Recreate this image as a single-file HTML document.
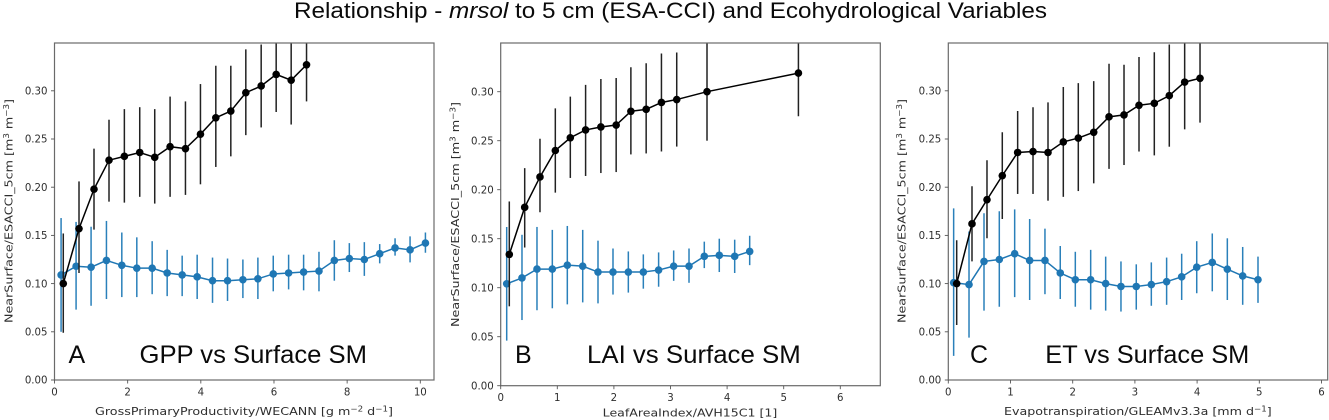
<!DOCTYPE html>
<html lang="en">
<head>
<meta charset="utf-8">
<title>Relationship - mrsol to 5 cm (ESA-CCI) and Ecohydrological Variables</title>
<style>
html,body{margin:0;padding:0;background:#fff;width:1329px;height:420px;overflow:hidden}
svg{display:block}
text{font-family:"DejaVu Sans","Liberation Sans",sans-serif;fill:#2e2e2e}
.big{font-family:"Liberation Sans",sans-serif;fill:#0a0a0a}
</style>
</head>
<body>
<svg id="figure" xmlns="http://www.w3.org/2000/svg" width="1329" height="420" viewBox="0 0 1329 420">
  <text class="big" x="294" y="18" font-size="22" textLength="753" lengthAdjust="spacingAndGlyphs">Relationship - <tspan font-style="italic">mrsol</tspan> to 5 cm (ESA-CCI) and Ecohydrological Variables</text>
  <g id="panels"></g>
</svg>
<script>
// Shared tick values
const yTickValues = [0, 0.05, 0.10, 0.15, 0.20, 0.25, 0.30];
const yTickLabels = ['0.00', '0.05', '0.10', '0.15', '0.20', '0.25', '0.30'];

// Panel A: GPP
const gppXTicks = [0, 2, 4, 6, 8, 10];
const gppBlackX = [0.24,0.67,1.08,1.49,1.91,2.33,2.74,3.16,3.58,3.99,4.41,4.82,5.23,5.65,6.06,6.47,6.89];
const gppBlackY = [0.100,0.157,0.198,0.228,0.232,0.236,0.231,0.242,0.240,0.255,0.272,0.279,0.298,0.305,0.317,0.311,0.327];
const gppBlackLow = [0.049,0.111,0.156,0.185,0.184,0.190,0.183,0.190,0.192,0.203,0.221,0.232,0.254,0.262,0.278,0.265,0.289];
const gppBlackHigh = [0.152,0.206,0.240,0.270,0.281,0.283,0.281,0.294,0.289,0.307,0.326,0.326,0.343,0.348,0.357,0.357,0.367];
const gppBlueX = [0.18,0.59,1.00,1.42,1.84,2.25,2.67,3.08,3.49,3.90,4.32,4.73,5.15,5.56,5.98,6.40,6.81,7.23,7.65,8.06,8.47,8.89,9.31,9.72,10.14];
const gppBlueY = [0.109,0.118,0.117,0.124,0.119,0.116,0.116,0.111,0.109,0.107,0.103,0.103,0.104,0.105,0.110,0.111,0.112,0.113,0.124,0.126,0.125,0.131,0.137,0.135,0.142];
const gppBlueLow = [0.050,0.073,0.077,0.084,0.086,0.086,0.089,0.087,0.087,0.084,0.080,0.082,0.085,0.084,0.092,0.094,0.093,0.092,0.103,0.112,0.108,0.121,0.129,0.122,0.132];
const gppBlueHigh = [0.168,0.164,0.159,0.165,0.153,0.148,0.144,0.135,0.129,0.130,0.127,0.126,0.125,0.127,0.129,0.130,0.130,0.133,0.145,0.142,0.143,0.141,0.147,0.149,0.153];

// Panel B: LAI
const laiXTicks = [0, 1, 2, 3, 4, 5, 6];
const laiBlackX = [0.152,0.424,0.694,0.965,1.23,1.50,1.77,2.04,2.30,2.57,2.84,3.11,3.645,5.26];
const laiBlackY = [0.134,0.182,0.213,0.240,0.253,0.261,0.264,0.266,0.280,0.282,0.289,0.292,0.300,0.319];
const laiBlackLow = [0.081,0.141,0.177,0.197,0.212,0.214,0.217,0.218,0.236,0.237,0.239,0.244,0.250,0.275];
const laiBlackHigh = [0.188,0.222,0.252,0.283,0.295,0.307,0.313,0.314,0.325,0.329,0.339,0.340,0.351,0.362];
const laiBlueX = [0.106,0.376,0.641,0.912,1.177,1.449,1.719,1.984,2.255,2.52,2.79,3.056,3.327,3.597,3.862,4.134,4.399];
const laiBlueY = [0.104,0.110,0.119,0.119,0.123,0.122,0.116,0.116,0.116,0.116,0.118,0.122,0.122,0.132,0.133,0.132,0.137];
const laiBlueLow = [0.046,0.067,0.077,0.079,0.083,0.085,0.084,0.093,0.095,0.099,0.101,0.107,0.105,0.120,0.116,0.115,0.123];
const laiBlueHigh = [0.162,0.154,0.162,0.159,0.163,0.159,0.148,0.140,0.137,0.134,0.136,0.138,0.140,0.147,0.150,0.149,0.153];

// Panel C: ET
const etXTicks = [0, 1, 2, 3, 4, 5, 6];
const etBlackX = [0.135,0.381,0.622,0.868,1.115,1.362,1.603,1.849,2.09,2.338,2.584,2.825,3.066,3.312,3.553,3.80,4.047];
const etBlackY = [0.100,0.162,0.187,0.212,0.236,0.237,0.236,0.247,0.251,0.257,0.273,0.275,0.285,0.287,0.295,0.309,0.313];
const etBlackLow = [0.057,0.123,0.147,0.167,0.193,0.193,0.186,0.190,0.196,0.204,0.219,0.223,0.237,0.233,0.242,0.260,0.267];
const etBlackHigh = [0.145,0.201,0.228,0.257,0.279,0.283,0.288,0.304,0.308,0.310,0.328,0.327,0.335,0.340,0.348,0.370,0.360];
const etBlueX = [0.086,0.333,0.574,0.82,1.067,1.308,1.554,1.80,2.042,2.289,2.53,2.776,3.022,3.264,3.51,3.752,3.994,4.244,4.486,4.733,4.979];
const etBlueY = [0.101,0.099,0.123,0.125,0.131,0.124,0.124,0.111,0.104,0.104,0.100,0.097,0.097,0.099,0.102,0.107,0.117,0.122,0.115,0.108,0.104];
const etBlueLow = [0.025,0.044,0.072,0.076,0.086,0.083,0.089,0.084,0.076,0.073,0.072,0.071,0.073,0.077,0.078,0.083,0.090,0.092,0.083,0.078,0.080];
const etBlueHigh = [0.178,0.154,0.173,0.175,0.177,0.167,0.157,0.139,0.133,0.135,0.128,0.123,0.120,0.122,0.127,0.131,0.144,0.152,0.147,0.138,0.128];

const SVG_NS = 'http://www.w3.org/2000/svg';
const BLACK = '#000000';
const BLUE = '#1f77b4';

function node(tag, attrs, parent) {
  const el = document.createElementNS(SVG_NS, tag);
  for (const k in attrs) el.setAttribute(k, attrs[k]);
  parent.appendChild(el);
  return el;
}

function drawSeries(group, sx, sy, xs, ys, lows, highs, color, barColor, prefix) {
  xs.forEach(function (x, i) {
    const bar = node('line', {x1: sx(x), x2: sx(x), y1: sy(lows[i]), y2: sy(highs[i]), stroke: barColor, 'stroke-width': 1.5}, group);
    
    
  });
  const pts = xs.map(function (x, i) { return sx(x).toFixed(2) + ',' + sy(ys[i]).toFixed(2); }).join(' ');
  const line = node('polyline', {points: pts, fill: 'none', stroke: color, 'stroke-width': 1.5}, group);
  
  
  xs.forEach(function (x, i) {
    const dot = node('circle', {cx: sx(x), cy: sy(ys[i]), r: 3.8, fill: color}, group);
    
    
  });
}

function drawPanel(p) {
  const root = document.getElementById('panels');
  const g = node('g', {}, root);
  
  
  const sx = function (v) { return p.left + v * p.xScale; };
  const sy = function (v) { return p.bottom - v * p.yScale; };

  const clip = node('clipPath', {id: 'clip-' + p.id}, g);
  node('rect', {x: p.left, y: p.top, width: p.right - p.left, height: p.bottom - p.top}, clip);

  const marks = node('g', {'clip-path': 'url(#clip-' + p.id + ')'}, g);
  
  
  drawSeries(marks, sx, sy, p.blueX, p.blueY, p.blueLow, p.blueHigh, BLUE, '#2a80ba', p.id + '-blue');
  drawSeries(marks, sx, sy, p.blackX, p.blackY, p.blackLow, p.blackHigh, BLACK, '#222222', p.id + '-black');

  const frame = node('rect', {x: p.left, y: p.top, width: p.right - p.left, height: p.bottom - p.top, fill: 'none', stroke: '#6a6a6a', 'stroke-width': 1.2}, g);
  
  

  yTickValues.forEach(function (v, i) {
    const tick = node('line', {x1: p.left - 3.5, x2: p.left, y1: sy(v), y2: sy(v), stroke: '#555', 'stroke-width': 0.9}, g);
    
    
    const label = node('text', {x: p.left - 7, y: sy(v) + 3.7, 'font-size': 10.2, 'text-anchor': 'end'}, g);
    label.textContent = yTickLabels[i];
    
    
  });

  p.xTicks.forEach(function (v) {
    const tick = node('line', {x1: sx(v), x2: sx(v), y1: p.bottom, y2: p.bottom + 3.5, stroke: '#555', 'stroke-width': 0.9}, g);
    
    
    const label = node('text', {x: sx(v), y: p.bottom + 15.5, 'font-size': 10.2, 'text-anchor': 'middle'}, g);
    label.textContent = String(v);
    
    
  });

  const xTitle = node('text', {x: p.xTitleX, y: p.xTitleY, 'font-size': 11, textLength: p.xTitleLen, lengthAdjust: 'spacingAndGlyphs'}, g);
  xTitle.innerHTML = p.xTitle;
  
  

  const yTitle = node('text', {transform: 'translate(' + p.yTitleX + ',' + p.yTitleY + ') rotate(-90)', 'font-size': 11, textLength: p.yTitleLen, lengthAdjust: 'spacingAndGlyphs'}, g);
  yTitle.innerHTML = 'NearSurface/ESACCI_5cm [m<tspan dy="-3.5" font-size="7.5">3</tspan><tspan dy="3.5"> m</tspan><tspan dy="-3.5" font-size="7.5">\u22123</tspan><tspan dy="3.5">]</tspan>';
  
  

  const letter = node('text', {class: 'big', x: p.letterX, y: 363, 'font-size': 25}, g);
  letter.textContent = p.letter;
  
  

  const note = node('text', {class: 'big', x: p.noteX, y: 363, 'font-size': 25, textLength: p.noteLen, lengthAdjust: 'spacingAndGlyphs'}, g);
  note.textContent = p.note;
  
  
}

drawPanel({
  id: 'gpp', left: 54.5, right: 434, top: 43, bottom: 380, xScale: 36.58, yScale: 964,
  xTicks: gppXTicks,
  blackX: gppBlackX, blackY: gppBlackY, blackLow: gppBlackLow, blackHigh: gppBlackHigh,
  blueX: gppBlueX, blueY: gppBlueY, blueLow: gppBlueLow, blueHigh: gppBlueHigh,
  xTitle: 'GrossPrimaryProductivity/WECANN [g m<tspan dy="-3.5" font-size="7.5">\u22122</tspan><tspan dy="3.5"> d</tspan><tspan dy="-3.5" font-size="7.5">\u22121</tspan><tspan dy="3.5">]</tspan>',
  xTitleX: 95, xTitleY: 415, xTitleLen: 298,
  yTitleX: 12.5, yTitleY: 323, yTitleLen: 224,
  letter: 'A', letterX: 68.5, note: 'GPP vs Surface SM', noteX: 139.5, noteLen: 227.5
});

drawPanel({
  id: 'lai', left: 500.7, right: 880.3, top: 43, bottom: 385.7, xScale: 56.6, yScale: 980,
  xTicks: laiXTicks,
  blackX: laiBlackX, blackY: laiBlackY, blackLow: laiBlackLow, blackHigh: laiBlackHigh,
  blueX: laiBlueX, blueY: laiBlueY, blueLow: laiBlueLow, blueHigh: laiBlueHigh,
  xTitle: 'LeafAreaIndex/AVH15C1 [1]',
  xTitleX: 602.7, xTitleY: 416.5, xTitleLen: 174.6,
  yTitleX: 459, yTitleY: 327, yTitleLen: 225,
  letter: 'B', letterX: 515, note: 'LAI vs Surface SM', noteX: 587, noteLen: 213.7
});

drawPanel({
  id: 'et', left: 948.3, right: 1327.7, top: 43, bottom: 380, xScale: 62.2, yScale: 964,
  xTicks: etXTicks,
  blackX: etBlackX, blackY: etBlackY, blackLow: etBlackLow, blackHigh: etBlackHigh,
  blueX: etBlueX, blueY: etBlueY, blueLow: etBlueLow, blueHigh: etBlueHigh,
  xTitle: 'Evapotranspiration/GLEAMv3.3a [mm d<tspan dy="-3.5" font-size="7.5">\u22121</tspan><tspan dy="3.5">]</tspan>',
  xTitleX: 1004, xTitleY: 415, xTitleLen: 267.7,
  yTitleX: 905.7, yTitleY: 323, yTitleLen: 224,
  letter: 'C', letterX: 970, note: 'ET vs Surface SM', noteX: 1045.3, noteLen: 204
});
</script>
</body>
</html>
